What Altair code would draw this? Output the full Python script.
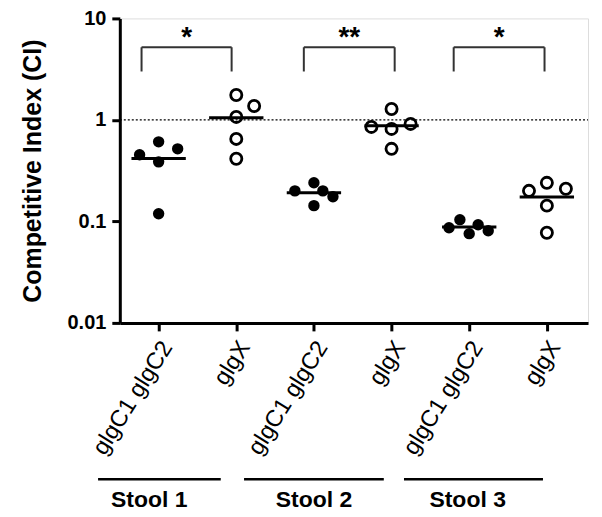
import altair as alt
import pandas as pd
import numpy as np

# ---- data ----
tick_pos = [1, 2, 3, 4, 5, 6]
tick_labels = ["glgC1 glgC2", "glgX", "glgC1 glgC2", "glgX", "glgC1 glgC2", "glgX"]
filled_flag = [True, False, True, False, True, False]

values = [
    [0.453, 0.608, 0.519, 0.386, 0.119],
    [1.76, 1.37, 1.07, 0.65, 0.414],
    [0.200, 0.240, 0.200, 0.175, 0.143],
    [1.28, 0.853, 0.815, 0.913, 0.519],
    [0.0867, 0.104, 0.0757, 0.0928, 0.081],
    [0.200, 0.240, 0.210, 0.143, 0.0774],
]
jitter = [
    [-0.245, 0, 0.245, 0, 0],
    [0, 0.23, 0, 0, 0],
    [-0.245, 0, 0.115, 0.245, 0],
    [0, -0.26, 0, 0.245, 0],
    [-0.26, -0.12, 0, 0.115, 0.245],
    [-0.23, 0, 0.245, 0, 0],
]
mean_halfwidth = 0.35

br_left = [0.78, 2.87, 4.80]
br_right = [1.94, 4.04, 5.97]
br_top = 5.2
br_bottom = 3.0
br_text = ["*", "**", "*"]
br_text_y = 6.4

stool_x0 = [0.22, 2.1, 4.16]
stool_x1 = [1.8, 3.9, 5.95]
stool_label_x = [0.88, 3.0, 4.98]
stool_labels = ["Stool 1", "Stool 2", "Stool 3"]
stool_line_y = 10 ** -3.54
stool_text_y = 10 ** -3.75

# ---- tables ----
rows = []
for p, vals, offs, f in zip(tick_pos, values, jitter, filled_flag):
    for v, o in zip(vals, offs):
        rows.append({"x": p + o, "y": v, "filled": f})
pts = pd.DataFrame(rows)

means = pd.DataFrame({
    "x": [p - mean_halfwidth for p in tick_pos],
    "x2": [p + mean_halfwidth for p in tick_pos],
    "y": [float(np.mean(v)) for v in values],
})

br = pd.DataFrame({"l": br_left, "r": br_right, "top": [br_top] * 3,
                   "bot": [br_bottom] * 3, "t": br_text,
                   "mx": [(a + b) / 2 for a, b in zip(br_left, br_right)],
                   "ty": [br_text_y] * 3})

st = pd.DataFrame({"x0": stool_x0, "x1": stool_x1, "lx": stool_label_x,
                   "lab": stool_labels, "ly": [stool_line_y] * 3,
                   "ty": [stool_text_y] * 3})

FONT = "Liberation Sans"
label_js = "[" + ",".join("'" + s + "'" for s in [""] + tick_labels) + "]"

xscale = alt.Scale(domain=[0.5, 6.53], nice=False, zero=False)
yscale = alt.Scale(type="log", domain=[0.01, 10], nice=False)

xenc = alt.X("x:Q", scale=xscale, axis=alt.Axis(
    values=tick_pos, labelExpr=label_js + "[datum.value]", title=None,
    labelAngle=-58, labelAlign="right", labelBaseline="middle",
    labelFontSize=23.5, labelFont=FONT, labelColor="black", labelPadding=12,
    labelOffset=8,
    domainColor="black", domainWidth=3, tickColor="black", tickWidth=3,
    tickSize=8, grid=False, labelFlush=False, labelOverlap=False))
yenc = alt.Y("y:Q", scale=yscale, axis=alt.Axis(
    values=[0.01, 0.1, 1, 10], format="~g", title="Competitive Index (CI)",
    titleFont=FONT, titleFontSize=25, titleFontWeight="bold", titleColor="black",
    titlePadding=22, labelFont=FONT, labelFontSize=20, labelFontWeight="bold",
    labelColor="black", labelPadding=6, domainColor="black", domainWidth=3,
    tickColor="black", tickWidth=3, tickSize=8, grid=False, labelFlush=False))

base_pts = alt.Chart(pts)
filled_layer = base_pts.transform_filter("datum.filled").mark_point(
    shape="circle", filled=True, color="black", size=130, opacity=1).encode(x=xenc, y=yenc)
open_layer = base_pts.transform_filter("!datum.filled").mark_point(
    shape="circle", filled=False, color="black", size=125, strokeWidth=2.8,
    opacity=1).encode(x="x:Q", y="y:Q")

mean_layer = alt.Chart(means).mark_rule(color="black", strokeWidth=3).encode(
    x="x:Q", x2="x2:Q", y="y:Q")

ref = alt.Chart(pd.DataFrame({"y": [1.0], "x": [0.5], "x2": [6.53]})).mark_rule(
    color="black", strokeWidth=1.3, strokeDash=[2, 2]).encode(x="x:Q", x2="x2:Q", y="y:Q")

br_h = alt.Chart(br).mark_rule(color="#333333", strokeWidth=2).encode(
    x="l:Q", x2="r:Q", y="top:Q")
br_vl = alt.Chart(br).mark_rule(color="#333333", strokeWidth=2).encode(
    x="l:Q", y="top:Q", y2="bot:Q")
br_vr = alt.Chart(br).mark_rule(color="#333333", strokeWidth=2).encode(
    x="r:Q", y="top:Q", y2="bot:Q")
br_t = alt.Chart(br).mark_text(font=FONT, fontSize=28, fontWeight="bold",
                               color="black", baseline="middle").encode(
    x="mx:Q", y="ty:Q", text="t:N")

st_line = alt.Chart(st).mark_rule(color="black", strokeWidth=2.5).encode(
    x="x0:Q", x2="x1:Q", y="ly:Q")
st_text = alt.Chart(st).mark_text(font=FONT, fontSize=23, fontWeight="bold",
                                  color="black", baseline="middle").encode(
    x="lx:Q", y="ty:Q", text="lab:N")

chart = alt.layer(filled_layer, open_layer, mean_layer, ref, br_h, br_vl, br_vr,
                  br_t, st_line, st_text).properties(
    width=469, height=305,
    padding={"left": 12, "top": 0, "right": 5, "bottom": 5},
).configure_view(stroke=None).configure(background="white")

chart.save("out.html", embed_options={"renderer": "svg", "actions": False})
